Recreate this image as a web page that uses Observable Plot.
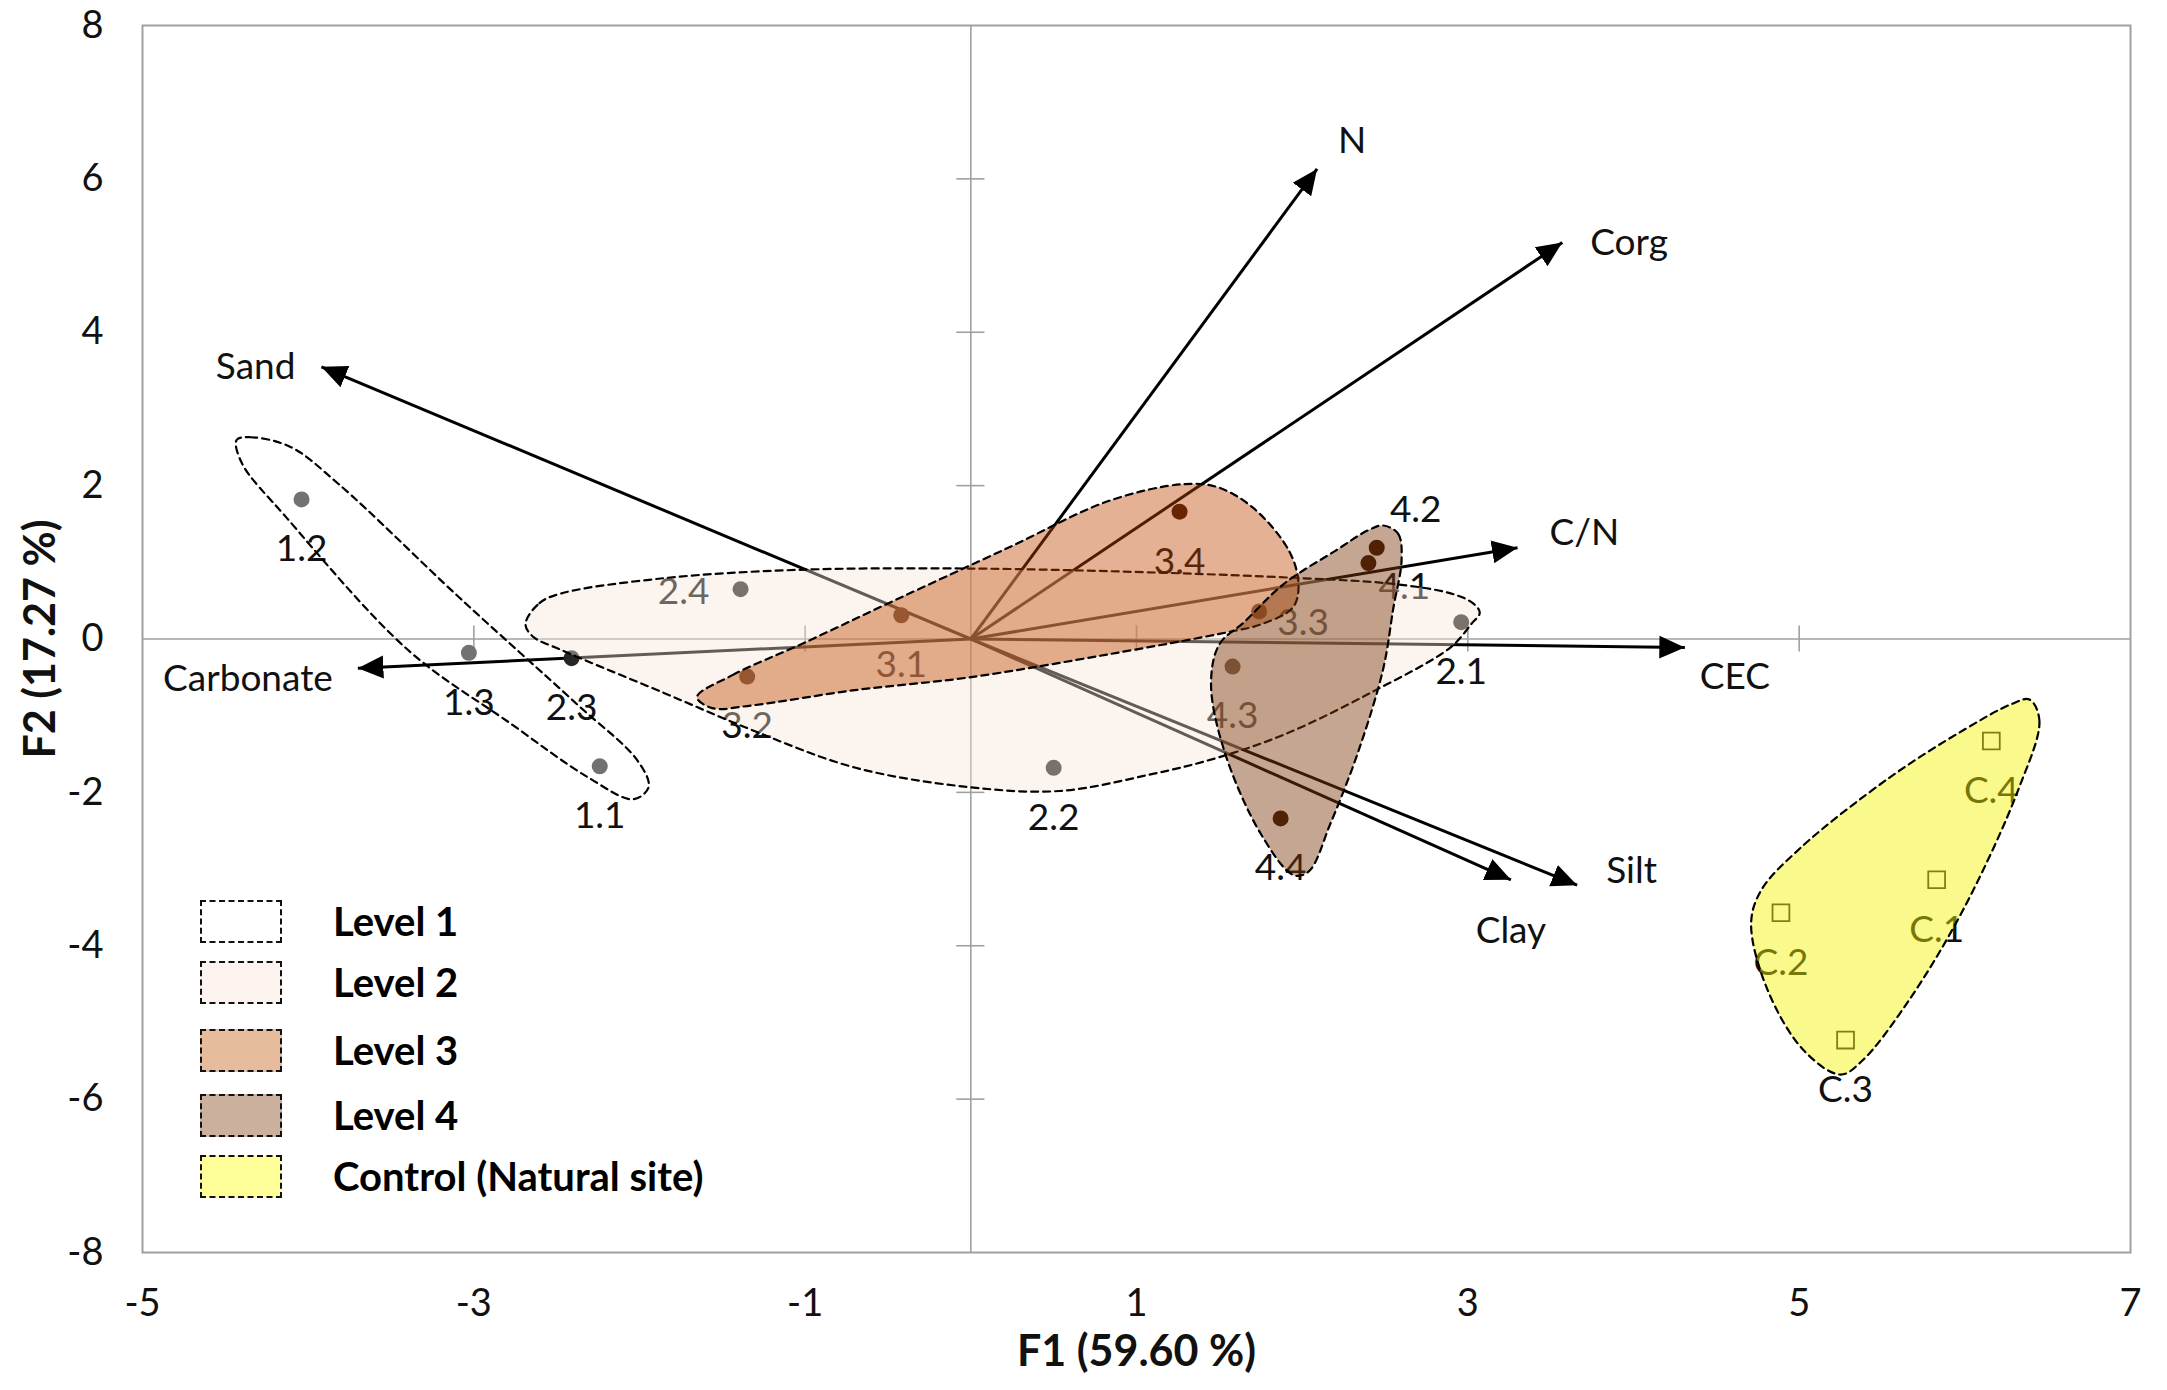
<!DOCTYPE html>
<html><head><meta charset="utf-8">
<script src="https://cdn.jsdelivr.net/npm/d3@7"></script>
<script src="https://cdn.jsdelivr.net/npm/@observablehq/plot@0.6"></script>
<style>
body{margin:0;background:#fff;font-family:Lato,"Open Sans",sans-serif;}
#wrap{position:relative;width:2167px;height:1390px;}
#legend{position:absolute;left:0;top:0;}
.row{position:absolute;left:200px;height:43px;}
.sw{position:absolute;left:0;top:0;width:82px;height:43px;border:2.5px dashed #111;box-sizing:border-box;}
.lt{position:absolute;left:133px;top:0;line-height:43px;font-weight:700;font-size:40px;color:#000;white-space:nowrap;}
</style></head><body><div id="wrap"></div>
<script>
// ---- data ----
const sampleLabels = ["1.1","1.2","1.3","2.1","2.2","2.3","2.4","3.1","3.2","3.3","3.4","4.1","4.2","4.3","4.4"];
const sampleF1 = [-2.24,-4.04,-3.03,2.96,0.50,-2.41,-1.39,-0.42,-1.35,1.74,1.26,2.40,2.45,1.58,1.87];
const sampleF2 = [-1.66,1.82,-0.18,0.22,-1.68,-0.25,0.65,0.31,-0.49,0.36,1.66,0.99,1.19,-0.36,-2.34];
const sampleLevel = [1,1,1,2,2,2,2,3,3,3,3,4,4,4,4];

const controlLabels = ["C.1","C.2","C.3","C.4"];
const controlF1 = [5.83,4.89,5.28,6.16];
const controlF2 = [-3.14,-3.57,-5.23,-1.33];

const variableNames = ["N","Corg","Sand","C/N","CEC","Carbonate","Silt","Clay"];
const variableF1 = [2.09,3.57,-3.92,3.30,4.31,-3.70,3.66,3.26];
const variableF2 = [6.13,5.17,3.55,1.19,-0.11,-0.38,-3.21,-3.14];

const xTicks = [-5,-3,-1,1,3,5,7];
const yTicks = [-8,-6,-4,-2,0,2,4,6,8];

const legendLabels = ["Level 1","Level 2","Level 3","Level 4","Control (Natural site)"];

// envelope outlines (F1, F2)
const level1Hull = [[-4.432,2.595],[-4.349,2.631],[-4.107,2.505],[-3.815,2.018],[-3.088,0.541],[-2.379,-0.847],[-2.012,-1.586],[-1.945,-1.928],[-2.037,-2.090],[-2.312,-1.802],[-2.780,-1.099],[-3.397,-0.144],[-4.132,1.586],[-4.399,2.288]];
const level2Hull = [[-2.688,0.198],[-2.604,0.468],[-2.471,0.595],[-1.853,0.793],[-1.052,0.901],[-0.025,0.919],[1.144,0.865],[1.995,0.793],[2.538,0.721],[2.896,0.595],[3.030,0.468],[3.072,0.342],[3.022,0.198],[2.896,-0.108],[2.412,-0.703],[1.895,-1.243],[1.486,-1.550],[1.085,-1.766],[0.534,-1.982],[-0.025,-1.928],[-0.701,-1.676],[-1.319,-1.189],[-1.853,-0.703],[-2.471,-0.144],[-2.646,0.036]];
const level3Hull = [[-1.653,-0.757],[-1.436,-0.468],[-1.010,-0.054],[-0.459,0.505],[0.225,1.189],[0.835,1.802],[1.277,2.018],[1.486,1.982],[1.703,1.712],[1.920,1.153],[1.978,0.721],[1.945,0.414],[1.761,0.198],[1.553,0.090],[0.835,-0.198],[-0.025,-0.505],[-0.701,-0.667],[-1.319,-0.865],[-1.561,-0.901]];
const level4Hull = [[2.49,1.48],[2.58,1.37],[2.60,1.03],[2.55,0.40],[2.49,-0.38],[2.34,-1.46],[2.17,-2.41],[2.04,-3.03],[1.95,-3.08],[1.75,-2.54],[1.53,-1.46],[1.45,-0.58],[1.50,-0.07],[1.65,0.22],[1.89,0.72],[2.20,1.15],[2.40,1.42]];
const controlHull = [[6.39,-0.79],[6.45,-1.06],[6.32,-1.98],[5.99,-3.53],[5.66,-4.72],[5.38,-5.50],[5.25,-5.68],[5.03,-5.37],[4.81,-4.58],[4.71,-3.71],[4.77,-3.28],[5.01,-2.72],[5.55,-1.80],[5.99,-1.19],[6.28,-0.85]];

// ---- styles ----
const FONT = "Lato, 'Open Sans', sans-serif";
const pointColor = {1:"#727272",2:"#262626",3:"#2a1000",4:"#2a1000"};
const hullStyles = [
  {hull: level1Hull, fill: "white", op: 0},
  {hull: level2Hull, fill: "rgb(248,228,212)", op: 0.4},
  {hull: level3Hull, fill: "rgb(190,70,0)", op: 0.42},
  {hull: level4Hull, fill: "rgb(124,57,13)", op: 0.45},
  {hull: controlHull, fill: "#f2f200", op: 0.45}
];
const legendFill = ["#ffffff","#fcf3ee","#e6bc9c","#ccb09e","#ffff99"];
const legendTop = [900,961,1029,1094,1155];
const labelOffset = {"2.4":[-57,3], "3.3":[44,12], "4.1":[36,24], "4.2":[39,-38]};
const varOffset = {"N":[21,-28,"start"],"Corg":[28,1,"start"],"Sand":[-26,0,"end"],"C/N":[32,-15,"start"],
  "CEC":[15,30,"start"],"Carbonate":[-25,11,"end"],"Silt":[29,-14,"start"],"Clay":[0,51,"middle"]};

// ---- build tables ----
const samples = sampleLabels.map((label,i)=>({label, x: sampleF1[i], y: sampleF2[i], level: sampleLevel[i]}));
const controls = controlLabels.map((label,i)=>({label, x: controlF1[i], y: controlF2[i]}));
const variables = variableNames.map((name,i)=>({name, x: variableF1[i], y: variableF2[i]}));
const allLabels = samples.concat(controls);

const innerX = xTicks.filter(t => t > -5 && t < 7);
const innerY = yTicks.filter(t => t > -8 && t < 8 && t !== 0);

const marks = [
  Plot.ruleX([0], {stroke:"#a0a0a0", strokeWidth:1.6}),
  Plot.ruleY([0], {stroke:"#a0a0a0", strokeWidth:1.6}),
  Plot.ruleX(innerX, {x: d=>d, y1: ()=>-0.17, y2: ()=>0.17, stroke:"#a0a0a0", strokeWidth:1.6}),
  Plot.ruleY(innerY, {y: d=>d, x1: ()=>-0.085, x2: ()=>0.085, stroke:"#a0a0a0", strokeWidth:1.6}),
  Plot.frame({stroke:"#a0a0a0", strokeWidth:2}),
  Plot.link(variables, {x1: ()=>0, y1: ()=>0, x2:"x", y2:"y", stroke:"#000", strokeWidth:3, markerEnd:"arrow"}),
  Plot.dot(samples, {x:"x", y:"y", r:8, fill: d=>pointColor[d.level], stroke:"none"}),
  Plot.dot(controls, {x:"x", y:"y", r:9.5, symbol:"square", fill:"none", stroke:"#222", strokeWidth:1.8}),
  ...allLabels.map(d => {
    const o = labelOffset[d.label] || [0,50];
    return Plot.text([d], {x:"x", y:"y", text:"label", dx:o[0], dy:o[1], fontSize:37, fill:"#111"});
  }),
  ...hullStyles.map(h => Plot.line(h.hull, {x: d=>d[0], y: d=>d[1], curve:"catmull-rom-closed",
      fill: h.fill, fillOpacity: h.op, stroke:"#000", strokeWidth:2.2, strokeDasharray:"7,5"})),
  ...variables.map(v => {
    const o = varOffset[v.name];
    return Plot.text([v], {x:"x", y:"y", text:"name", dx:o[0], dy:o[1], textAnchor:o[2], fontSize:37, fill:"#111"});
  }),
  Plot.axisY({ticks: yTicks, tickSize:0, tickPadding:39, fontSize:38, tickFormat: d=>String(d), label:null}),
  Plot.axisX({ticks: xTicks, tickSize:0, tickPadding:37, fontSize:38, tickFormat: d=>String(d), label:null}),
  Plot.text(["F1 (59.60 %)"], {text: d=>d, frameAnchor:"bottom", dy:113, fontSize:43, fontWeight:"bold", fill:"#111"}),
  Plot.text(["F2 (17.27 %)"], {text: d=>d, frameAnchor:"left", textAnchor:"middle", dx:-101, rotate:-90, fontSize:43, fontWeight:"bold", fill:"#111"})
];

const chart = Plot.plot({
  width: 2167, height: 1390,
  marginLeft: 142, marginRight: 37, marginTop: 25, marginBottom: 138,
  x: {domain: [-5,7]},
  y: {domain: [-8,8]},
  style: {fontFamily: FONT, fontSize: "37px", color: "#111", background: "white"},
  marks
});

// filled triangular arrowheads
chart.querySelectorAll("marker").forEach(m => {
  m.setAttribute("viewBox","-8 -4 8 8");
  m.setAttribute("markerWidth","8.5");
  m.setAttribute("markerHeight","8.5");
  m.setAttribute("fill","#000");
  m.setAttribute("stroke","none");
  const p = m.querySelector("path");
  if (p) p.setAttribute("d","M-8,-3.6L0,0L-8,3.6Z");
});

const wrap = document.getElementById("wrap");
wrap.appendChild(chart);

// legend overlay
const legend = document.createElement("div");
legend.id = "legend";
legendLabels.forEach((lab,i) => {
  const row = document.createElement("div");
  row.className = "row";
  row.style.top = legendTop[i] + "px";
  const sw = document.createElement("div");
  sw.className = "sw";
  sw.style.background = legendFill[i];
  const t = document.createElement("div");
  t.className = "lt";
  t.textContent = lab;
  row.appendChild(sw); row.appendChild(t);
  legend.appendChild(row);
});
wrap.appendChild(legend);
</script>
</body></html>
